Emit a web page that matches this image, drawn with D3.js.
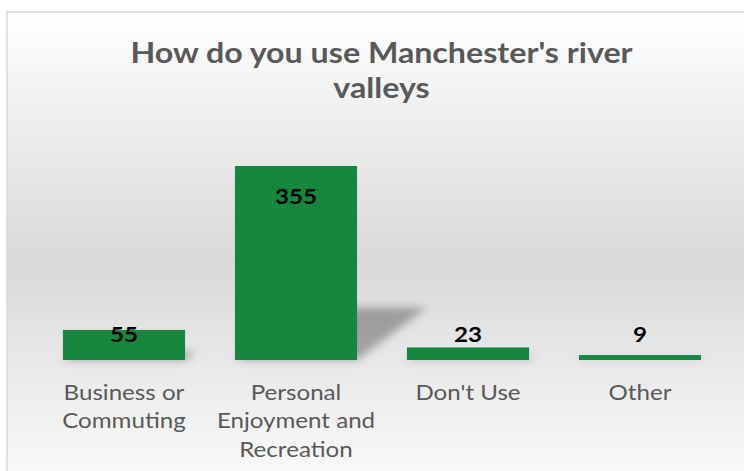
<!DOCTYPE html>
<html>
<head>
<meta charset="utf-8">
<script src="https://cdn.jsdelivr.net/npm/d3@7"></script>
<style>
  html, body { margin: 0; padding: 0; background: #ffffff; }
  svg { display: block; }
</style>
</head>
<body>
<svg id="chart" width="744" height="471"></svg>
<script>
// Survey responses: how people use Manchester's river valleys
const categories = ["Business or Commuting", "Personal Enjoyment and Recreation", "Don't Use", "Other"];
const categoryLines = [["Business or", "Commuting"], ["Personal", "Enjoyment and", "Recreation"], ["Don't Use"], ["Other"]];
const values = [55, 355, 23, 9];
const titleLines = ["How do you use Manchester's river", "valleys"];

const svg = d3.select("#chart");
const frame = { x: 7, y: 12, w: 749, h: 500 };
const centerX = frame.x + frame.w / 2;
const baseline = 360;
const stretch = 1.15; // wide lettering

const defs = svg.append("defs");
const grad = defs.append("linearGradient")
  .attr("id", "bg").attr("x1", 0).attr("y1", 0).attr("x2", 0).attr("y2", 1);
grad.append("stop").attr("offset", "0%").attr("stop-color", "#ffffff");
grad.append("stop").attr("offset", "50%").attr("stop-color", "#d9d9d9");
grad.append("stop").attr("offset", "100%").attr("stop-color", "#ffffff");

defs.append("filter").attr("id", "soft")
  .attr("x", "-50%").attr("y", "-50%").attr("width", "200%").attr("height", "200%")
  .append("feGaussianBlur").attr("stdDeviation", 4.5);

// chart area with gradient fill
svg.append("rect")
  .attr("x", frame.x).attr("y", frame.y)
  .attr("width", frame.w).attr("height", frame.h)
  .attr("fill", "url(#bg)")
  .attr("stroke", "#d9d9d9").attr("stroke-width", 1.5);

// title
svg.append("g")
  .selectAll("text").data(titleLines).join("text")
  .attr("transform", (d, i) => `translate(${centerX},${63 + i * 35}) scale(${stretch},1)`)
  .attr("text-anchor", "middle")
  .attr("font-family", "Lato, sans-serif")
  .attr("font-weight", 700)
  .attr("font-size", 28)
  .attr("fill", "#595959")
  .text(d => d);

const x = d3.scaleBand()
  .domain(categories)
  .range([38, 726])
  .paddingInner(0.29)
  .paddingOuter(0.145);

const y = d3.scaleLinear()
  .domain([0, 400])
  .range([baseline, 141.4]);

// perspective shadows cast up and to the right
svg.append("g")
  .attr("filter", "url(#soft)")
  .selectAll("rect").data(values).join("rect")
  .attr("transform", `translate(0,${baseline}) matrix(1,0,-0.36,0.27,0,0)`)
  .attr("x", (d, i) => x(categories[i]))
  .attr("y", d => y(d) - baseline)
  .attr("width", x.bandwidth())
  .attr("height", d => baseline - y(d))
  .attr("fill", "#000")
  .attr("fill-opacity", 0.3);

// bars
svg.append("g")
  .selectAll("rect").data(values).join("rect")
  .attr("x", (d, i) => x(categories[i]))
  .attr("y", d => y(d))
  .attr("width", x.bandwidth())
  .attr("height", d => baseline - y(d))
  .attr("fill", "#16873d");

// value labels
svg.append("g")
  .selectAll("text").data(values).join("text")
  .attr("transform", (d, i) =>
    `translate(${x(categories[i]) + x.bandwidth() / 2},${Math.min(y(d) + 30, 334)}) scale(${stretch},1)`)
  .attr("dy", "0.36em")
  .attr("text-anchor", "middle")
  .attr("font-family", "Lato, sans-serif")
  .attr("font-weight", 700)
  .attr("font-size", 21)
  .attr("fill", "#000")
  .text(d => d);

// category labels
svg.append("g")
  .selectAll("text").data(categoryLines).join("text")
  .attr("transform", (d, i) => `translate(${x(categories[i]) + x.bandwidth() / 2},0) scale(${stretch},1)`)
  .attr("text-anchor", "middle")
  .attr("font-family", "Lato, sans-serif")
  .attr("font-size", 21)
  .attr("fill", "#595959")
  .each(function (lines) {
    d3.select(this).selectAll("tspan").data(lines).join("tspan")
      .attr("x", 0)
      .attr("y", (d, j) => 400 + j * 28.5)
      .text(d => d);
  });
</script>
</body>
</html>
